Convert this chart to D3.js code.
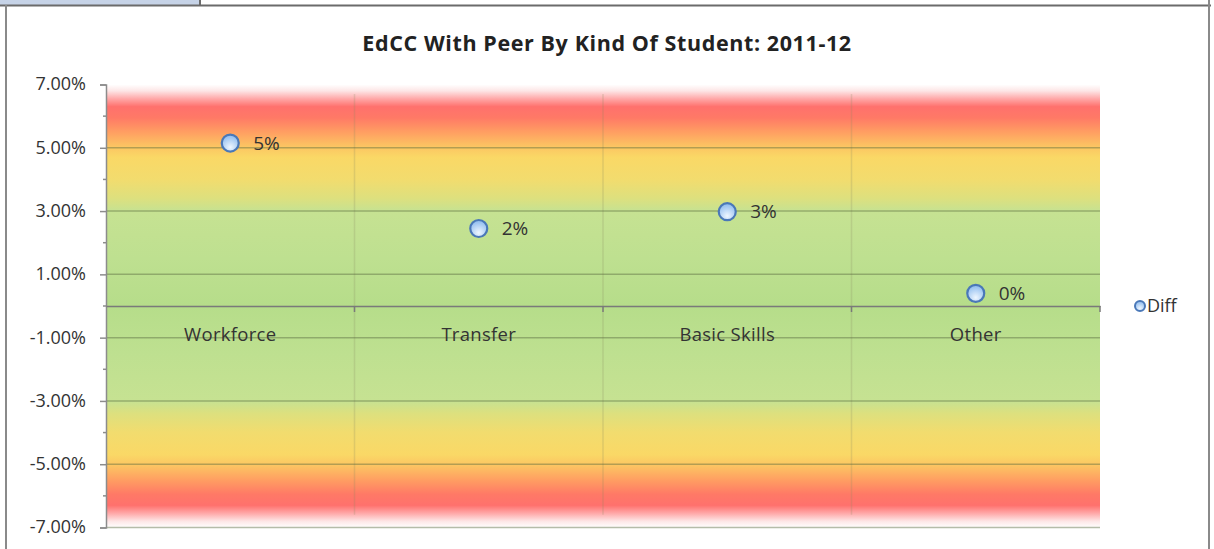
<!DOCTYPE html>
<html><head><meta charset="utf-8">
<script src="https://cdn.jsdelivr.net/npm/d3@7/dist/d3.min.js"></script>
<style>
html,body{margin:0;padding:0;background:#fff;}
svg{display:block;font-family:"Open Sans","Liberation Sans",sans-serif;}
</style></head>
<body>
<svg id="chart" width="1214" height="549"></svg>
<script>
const categories = ["Workforce", "Transfer", "Basic Skills", "Other"];
const diffValues = [5.15, 2.45, 2.98, 0.40]; // percent
const yTicks = [7, 5, 3, 1, -1, -3, -5, -7];
const yMinorTicks = [6, 4, 2, 0, -2, -4, -6];
const title = "EdCC With Peer By Kind Of Student: 2011-12";
const seriesName = "Diff";
// background band colours (value in % -> colour), symmetric around 0
const bandStops = [
  [7.0, "#ffffff"], [6.8, "#fde6e6"], [6.55, "#ffa8a8"], [6.3, "#ff716d"], [5.95, "#ff7966"],
  [5.5, "#ff9e62"], [5.05, "#fcc462"], [4.7, "#fad866"], [4.0, "#f2dc6e"],
  [3.4, "#dde07e"], [3.0, "#c6e292"], [1.5, "#bee090"], [0, "#b6dd8a"]
];

const svg = d3.select("#chart");
const W = 1214, H = 549;
const plot = {left: 106, right: 1100, top: 84.5, bottom: 527.5};
const FONT = "'Open Sans',sans-serif";

// frame
svg.append("rect").attr("x", 0).attr("y", 0).attr("width", 200).attr("height", 5).attr("fill", "#c6d3e7");
svg.append("line").attr("x1", 0).attr("x2", 1211).attr("y1", 5.5).attr("y2", 5.5).attr("stroke", "#6b6b6b").attr("stroke-width", 2);
svg.append("line").attr("x1", 200).attr("x2", 200).attr("y1", 0).attr("y2", 6).attr("stroke", "#6b6b6b").attr("stroke-width", 2);
svg.append("line").attr("x1", 6).attr("x2", 6).attr("y1", 5).attr("y2", H).attr("stroke", "#8a8a8a").attr("stroke-width", 2);
svg.append("line").attr("x1", 1209).attr("x2", 1209).attr("y1", 0).attr("y2", H).attr("stroke", "#8a8a8a").attr("stroke-width", 2);

const x = d3.scaleBand().domain(categories).range([plot.left, plot.right]).padding(0);
const y = d3.scaleLinear().domain([-7, 7]).range([plot.bottom, plot.top]);

// gradient
const defs = svg.append("defs");
const grad = defs.append("linearGradient").attr("id", "bg")
  .attr("gradientUnits", "userSpaceOnUse")
  .attr("x1", 0).attr("x2", 0).attr("y1", y(7)).attr("y2", y(-7));
const allStops = bandStops.concat(bandStops.slice(0, -1).reverse().map(([v, c]) => [-v, c]));
allStops.forEach(([v, c]) => {
  grad.append("stop").attr("offset", (y(v) - y(7)) / (y(-7) - y(7))).attr("stop-color", c);
});
const mg = defs.append("radialGradient").attr("id", "marker").attr("cx", "50%").attr("cy", "75%").attr("r", "70%");
mg.append("stop").attr("offset", 0).attr("stop-color", "#eef6ff");
mg.append("stop").attr("offset", 1).attr("stop-color", "#8fbcef");

svg.append("rect").attr("x", plot.left).attr("y", y(7)).attr("width", plot.right - plot.left)
  .attr("height", y(-7) - y(7)).attr("fill", "url(#bg)");

// vertical category dividers
svg.append("g").selectAll("line").data(categories.slice(1)).join("line")
  .attr("x1", d => x(d)).attr("x2", d => x(d)).attr("y1", y(6.7)).attr("y2", y(-6.6))
  .attr("stroke", "#8a8a60").attr("stroke-opacity", 0.22).attr("stroke-width", 1.5);

// horizontal gridlines
svg.append("g").selectAll("line").data(yTicks.slice(1)).join("line")
  .attr("x1", plot.left).attr("x2", plot.right).attr("y1", d => y(d)).attr("y2", d => y(d))
  .attr("stroke", "#5a6a40").attr("stroke-opacity", 0.45).attr("stroke-width", 1.5);

// y axis
const yAxis = d3.axisLeft(y).tickValues(yTicks).tickSize(6).tickPadding(14)
  .tickFormat(d => d3.format(".2f")(d).replace("\u2212", "-") + "%");
const gy = svg.append("g").attr("transform", `translate(${plot.left},0)`).call(yAxis);
gy.select(".domain").attr("stroke", "#8c8c8c").attr("stroke-width", 1.5);
gy.selectAll(".tick line").attr("stroke", "#8c8c8c").attr("stroke-width", 1.5);
gy.selectAll(".tick text").attr("font-size", 18).attr("fill", "#333").attr("dy", "0.3em")
  .attr("font-family", FONT).attr("letter-spacing", 0);
svg.append("g").selectAll("line").data(yMinorTicks).join("line")
  .attr("x1", plot.left - 3).attr("x2", plot.left).attr("y1", d => y(d)).attr("y2", d => y(d))
  .attr("stroke", "#8c8c8c").attr("stroke-width", 1.5);

// zero axis with category ticks and labels
const xAxis = d3.axisBottom(x).tickSize(0).tickPadding(0);
const gx = svg.append("g").attr("transform", `translate(0,${y(0)})`).call(xAxis);
gx.select(".domain").attr("stroke", "#7a7a7a").attr("stroke-width", 1.5);
gx.selectAll(".tick text").attr("font-size", 18.5).attr("fill", "#333").attr("dy", "1.9em")
  .attr("font-family", FONT).attr("letter-spacing", 0.3);
svg.append("g").selectAll("line").data(categories.slice(1).map(c => x(c)).concat([plot.right]))
  .join("line").attr("x1", d => d).attr("x2", d => d).attr("y1", y(0)).attr("y2", y(0) + 6)
  .attr("stroke", "#7a7a7a").attr("stroke-width", 1.5);

// points
const cx = c => x(c) + x.bandwidth() / 2;
const pts = svg.append("g");
pts.selectAll("circle").data(categories).join("circle")
  .attr("cx", d => cx(d)).attr("cy", (d, i) => y(diffValues[i])).attr("r", 8.5)
  .attr("fill", "url(#marker)").attr("stroke", "#4a78b8").attr("stroke-width", 2.2);
pts.selectAll("text").data(categories).join("text")
  .attr("x", d => cx(d) + 23).attr("y", (d, i) => y(diffValues[i]))
  .attr("dy", "0.35em").attr("font-size", 19).attr("fill", "#333").attr("font-family", FONT)
  .text((d, i) => Math.round(diffValues[i]) + "%");

// title
svg.append("text").attr("x", 607).attr("y", 43).attr("text-anchor", "middle")
  .attr("dy", "0.35em").attr("font-size", 21.5).attr("font-weight", "bold").attr("fill", "#222")
  .attr("letter-spacing", 0.6).attr("font-family", FONT).text(title);

// legend
const lg = svg.append("g").attr("transform", `translate(1140,${y(0)})`);
lg.append("circle").attr("r", 5).attr("fill", "url(#marker)").attr("stroke", "#4a78b8").attr("stroke-width", 2);
lg.append("text").attr("x", 7).attr("dy", "0.35em").attr("font-size", 18).attr("fill", "#333")
  .attr("font-family", FONT).text(seriesName);
</script>
</body></html>
